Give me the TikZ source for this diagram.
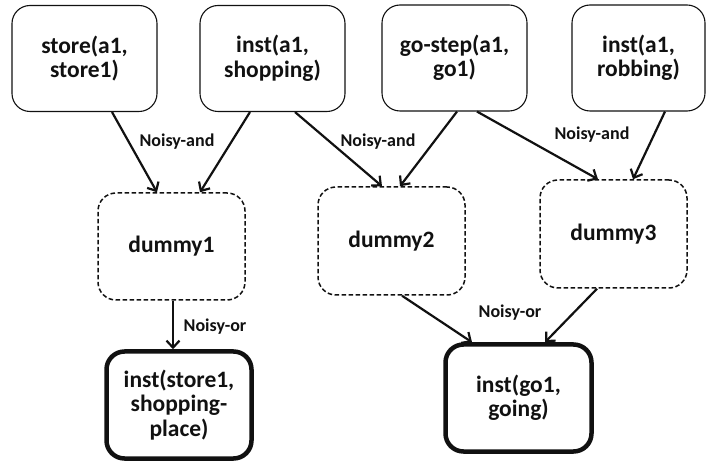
\documentclass[tikz,border=0pt]{standalone}
\usepackage{fontspec}
\setmainfont{Carlito}
\usetikzlibrary{arrows.meta}
\definecolor{ink}{HTML}{111111}
\tikzset{
  box/.style={draw=ink, line width=1.1pt, rounded corners=18pt, align=center,
    font=\bfseries\fontsize{23.5}{24.5}\selectfont, text=ink, inner sep=0pt},
  dummybox/.style={box, dashed, dash pattern=on 4.5pt off 2.5pt, line width=1.5pt},
  goalbox/.style={box, line width=4.5pt},
  conn/.style={line width=2.2pt, draw=ink, -{Straight Barb[length=7pt,width=13pt,line width=2.2pt]}},
  lab/.style={font=\bfseries\fontsize{18}{20}\selectfont, text=ink, inner sep=0pt}
}
\begin{document}
\begin{tikzpicture}[x=1pt,y=-1pt]
\useasboundingbox (0,0) rectangle (707,462);
\fill[white] (0,0) rectangle (707,462);
% top row
\node[box, minimum width=145pt, minimum height=106pt] (store) at (84.5,58.5) {store(a1,\\store1)};
\node[box, minimum width=145pt, minimum height=106pt] (shop) at (272.5,58.5) {inst(a1,\\shopping)};
\node[box, minimum width=145pt, minimum height=106pt] (gostep) at (454.5,58) {go-step(a1,\\go1)};
\node[box, minimum width=133pt, minimum height=106pt] (rob) at (638.5,58) {inst(a1,\\robbing)};
% dummies
\node[dummybox, minimum width=147pt, minimum height=107pt] (d1) at (171.5,246.5) {dummy1};
\node[dummybox, minimum width=147pt, minimum height=108pt] (d2) at (391.5,241) {dummy2};
\node[dummybox, minimum width=147pt, minimum height=108pt] (d3) at (613.5,234) {dummy3};
% goals
\node[goalbox, minimum width=145pt, minimum height=107pt] (g1) at (179,405) {inst(store1,\\shopping-\\place)};
\node[goalbox, minimum width=146pt, minimum height=107pt] (g2) at (518.5,398) {inst(go1,\\going)};
% connectors
\draw[conn] ([xshift=27.5pt]store.south) -- ([xshift=-14.5pt]d1.north);
\draw[conn] ([xshift=-22.5pt]shop.south) -- ([xshift=28.5pt]d1.north);
\draw[conn] ([xshift=22.5pt]shop.south) -- ([xshift=-9.5pt]d2.north);
\draw[conn] ([xshift=2.5pt]gostep.south) -- ([xshift=8.5pt]d2.north);
\draw[conn] ([xshift=22.5pt]gostep.south) -- ([xshift=-15.5pt]d3.north);
\draw[conn] ([xshift=26.5pt]rob.south) -- ([xshift=19.5pt]d3.north);
\draw[conn] ([xshift=1.5pt]d1.south) -- ([xshift=-6pt]g1.north);
\draw[conn] ([xshift=10.5pt]d2.south) -- ([xshift=-46.5pt]g2.north);
\draw[conn] ([xshift=-16.5pt]d3.south) -- ([xshift=26.5pt]g2.north);
% labels
\node[lab] (l1) at (177,142) {Noisy-and};
\node[lab] (l2) at (378,142) {Noisy-and};
\node[lab] (l3) at (592,135) {Noisy-and};
\node[lab] (l4) at (215,327) {Noisy-or};
\node[lab] (l5) at (510,313) {Noisy-or};
\end{tikzpicture}
\end{document}
